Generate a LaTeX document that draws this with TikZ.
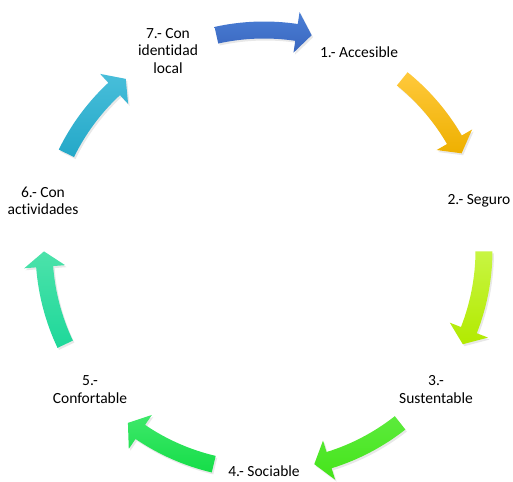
\documentclass[tikz,border=0pt]{standalone}
\usepackage{fontspec}
\setmainfont{Carlito}[Ligatures=NoCommon]
\usetikzlibrary{shadows}

\definecolor{blueA}{HTML}{4A7FD6}
\definecolor{blueB}{HTML}{3A66BE}
\definecolor{goldA}{HTML}{FFC93C}
\definecolor{goldB}{HTML}{EEB000}
\definecolor{limeA}{HTML}{C8F542}
\definecolor{limeB}{HTML}{B2EA00}
\definecolor{grassA}{HTML}{5CEB3C}
\definecolor{grassB}{HTML}{45E41A}
\definecolor{leafA}{HTML}{3EE86A}
\definecolor{leafB}{HTML}{15DD48}
\definecolor{mintA}{HTML}{4CE2AA}
\definecolor{mintB}{HTML}{1ED89A}
\definecolor{skyA}{HTML}{48BEDA}
\definecolor{skyB}{HTML}{24A8C8}

\tikzset{lab/.style={align=center,text=black,font=\fontsize{15.5}{17.5}\selectfont}}

\begin{document}
\begin{tikzpicture}[x=1pt,y=1pt]
\useasboundingbox (0,0) rectangle (513,481);
\coordinate (o) at (264,231);
\foreach \m/\ca/\cb in {90/blueA/blueB, 38.57/goldA/goldB, -12.86/limeA/limeB, -64.29/grassA/grassB, -115.71/leafA/leafB, -167.14/mintA/mintB, 141.43/skyA/skyB}{
  \pgfmathsetmacro\t{\m+12.5}
  \pgfmathsetmacro\p{\m-12.5}
  \pgfmathsetmacro\b{\m-8.5}
  \path[top color=\ca,bottom color=\cb,drop shadow={opacity=0.18,shadow xshift=1.5pt,shadow yshift=-2pt}]
    ([shift={(o)}]\t:228.5pt) arc[start angle=\t,end angle=\b,radius=228.5pt]
    -- ([shift={(o)}]\b:240.5pt) -- ([shift={(o)}]\p:220pt) -- ([shift={(o)}]\b:199.5pt)
    -- ([shift={(o)}]\b:211.5pt) arc[start angle=\b,end angle=\t,radius=211.5pt] -- cycle;
}
\node[lab] (p1) at (359,429) {1.- Accesible};
\node[lab] (p2) at (479,280) {2.- Seguro};
\node[lab] (p3) at (436,91.5) {3.-\\Sustentable};
\node[lab] (p4) at (264,9.5) {4.- Sociable};
\node[lab] (p5) at (90,91.5) {5.-\\Confortable};
\node[lab] (p6) at (43,280) {6.- Con\\actividades};
\node[lab] (p7) at (168,430) {7.- Con\\identidad\\local};
\end{tikzpicture}
\end{document}
